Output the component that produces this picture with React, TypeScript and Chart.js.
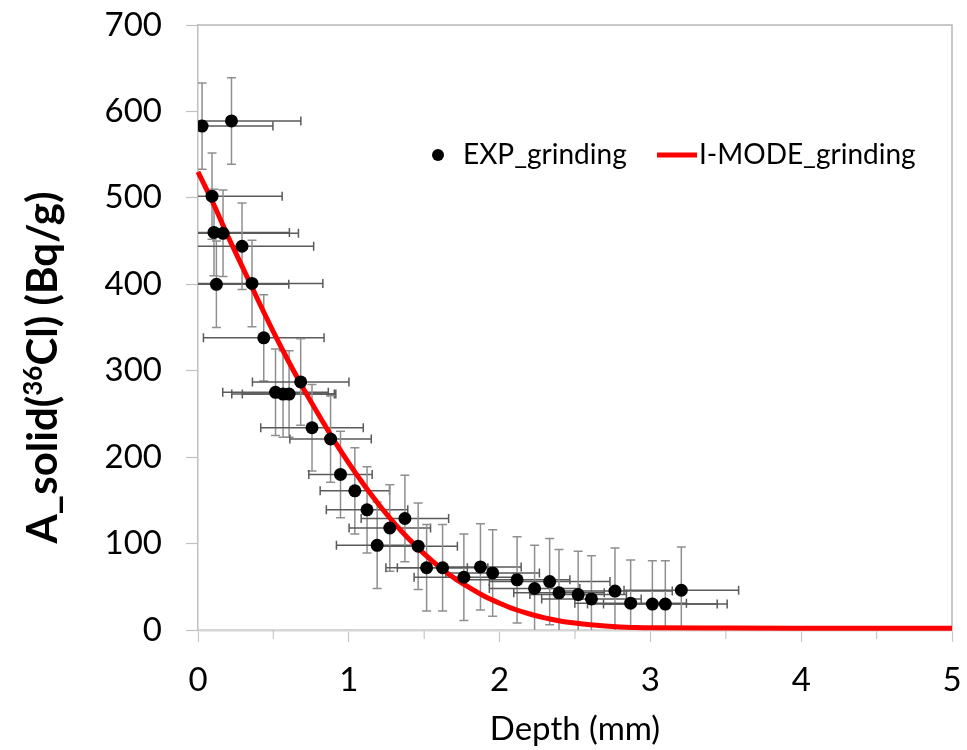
import React, { useEffect, useRef } from "react";
import { Chart, registerables } from "chart.js";

Chart.register(...registerables);

// Experimental points (grinding)
const depthMm = [
  0.027, 0.222, 0.093, 0.106, 0.166, 0.122, 0.292, 0.358, 0.436, 0.514,
  0.564, 0.604, 0.681, 0.756, 0.879, 0.945, 1.04, 1.121, 1.188, 1.272,
  1.372, 1.46, 1.516, 1.622, 1.763, 1.873, 1.954, 2.116, 2.232, 2.332,
  2.394, 2.521, 2.609, 2.765, 2.869, 3.013, 3.099, 3.205,
];
const activity = [
  583, 589, 502, 460, 459, 400, 444, 401, 338, 275,
  273, 273, 287, 234, 221, 180, 161, 139, 98, 118,
  129, 97, 72, 72, 61, 73, 66, 58, 48, 56,
  43, 41, 36, 45, 31, 30, 30, 46,
];
const depthErr = [
  0.47, 0.46, 0.465, 0.5, 0.5, 0.48, 0.475, 0.47, 0.4, 0.35,
  0.34, 0.31, 0.32, 0.34, 0.27, 0.21, 0.23, 0.27, 0.27, 0.27,
  0.29, 0.26, 0.27, 0.3, 0.33, 0.27, 0.31, 0.35, 0.3, 0.4,
  0.3, 0.32, 0.33, 0.38, 0.37, 0.43, 0.41, 0.38,
];
const activityErr = [
  50, 50, 50, 50, 50, 50, 50, 50, 50, 50,
  50, 50, 50, 50, 50, 50, 50, 50, 50, 50,
  50, 50, 50, 50, 50, 50, 50, 50, 50, 50,
  50, 50, 50, 50, 50, 50, 50, 50,
];

// Model curve (I-MODE grinding)
const modelDepth = [
  0, 0.1, 0.2, 0.3, 0.4, 0.5, 0.6, 0.7, 0.8, 0.9,
  1.0, 1.1, 1.2, 1.3, 1.4, 1.5, 1.6, 1.7, 1.8, 1.9,
  2.0, 2.1, 2.2, 2.3, 2.4, 2.5, 2.6, 2.7, 2.8, 2.9,
  3.0, 3.5, 4.0, 4.5, 5.0,
];
const modelActivity = [
  530, 494, 455, 418, 381, 345, 311, 279, 249, 220,
  193, 168, 145, 124, 105, 88, 73, 60, 49, 39,
  31, 24, 18.5, 14, 10.5, 8, 6, 4.6, 3.6, 3,
  2.6, 2.2, 2, 2, 2,
];

const xTickLabels = ["0", "1", "2", "3", "4", "5"];
const yTickLabels = ["0", "100", "200", "300", "400", "500", "600", "700"];

const seriesNames = ["EXP_grinding", "I-MODE_grinding"];
const xTitle = "Depth (mm)";
const yTitleParts = ["A_solid(", "36", "Cl) (Bq/g)"];

const FONT = "Lato, 'Open Sans', sans-serif";

const decorPlugin = {
  id: "decor",
  beforeDatasetsDraw(chart: any) {
    const { ctx, chartArea } = chart;
    const xs = chart.scales.x;
    const ys = chart.scales.y;
    const { left, right, top, bottom } = chartArea;
    ctx.save();
    // top & right frame
    ctx.strokeStyle = "#b8b8b8";
    ctx.lineWidth = 1.5;
    ctx.beginPath();
    ctx.moveTo(left, top);
    ctx.lineTo(right, top);
    ctx.lineTo(right, bottom);
    ctx.stroke();
    // minor x ticks
    ctx.strokeStyle = "#c8c8c8";
    ctx.lineWidth = 1.2;
    for (let v = 0.5; v < 5; v += 1) {
      const px = xs.getPixelForValue(v);
      ctx.beginPath();
      ctx.moveTo(px, bottom);
      ctx.lineTo(px, bottom + 9);
      ctx.stroke();
    }
    // error bars, clipped to plot area
    ctx.beginPath();
    ctx.rect(left, top, right - left, bottom - top);
    ctx.clip();
    const cap = 4.5;
    for (let i = 0; i < depthMm.length; i++) {
      const cx = xs.getPixelForValue(depthMm[i]);
      const cy = ys.getPixelForValue(activity[i]);
      const y1 = ys.getPixelForValue(activity[i] + activityErr[i]);
      const y2 = ys.getPixelForValue(activity[i] - activityErr[i]);
      ctx.strokeStyle = "#8f8f8f";
      ctx.lineWidth = 1.5;
      ctx.beginPath();
      ctx.moveTo(cx, y1);
      ctx.lineTo(cx, y2);
      ctx.moveTo(cx - cap, y1);
      ctx.lineTo(cx + cap, y1);
      ctx.moveTo(cx - cap, y2);
      ctx.lineTo(cx + cap, y2);
      ctx.stroke();
      const x1 = xs.getPixelForValue(depthMm[i] - depthErr[i]);
      const x2 = xs.getPixelForValue(depthMm[i] + depthErr[i]);
      ctx.strokeStyle = "#5a5a5a";
      ctx.beginPath();
      ctx.moveTo(x1, cy);
      ctx.lineTo(x2, cy);
      ctx.moveTo(x1, cy - cap);
      ctx.lineTo(x1, cy + cap);
      ctx.moveTo(x2, cy - cap);
      ctx.lineTo(x2, cy + cap);
      ctx.stroke();
    }
    ctx.restore();
  },
  afterDraw(chart: any) {
    const { ctx, chartArea } = chart;
    const { left, top, bottom } = chartArea;
    ctx.save();
    // Y axis title (bold, with superscript)
    const size = 42;
    const big = `bold ${size}px ${FONT}`;
    const small = `bold ${Math.round(size * 0.62)}px ${FONT}`;
    ctx.font = big;
    const w0 = ctx.measureText(yTitleParts[0]).width;
    const w2 = ctx.measureText(yTitleParts[2]).width;
    ctx.font = small;
    const w1 = ctx.measureText(yTitleParts[1]).width;
    const total = w0 + w1 + w2;
    const cyTitle = (top + bottom) / 2 + 40;
    ctx.translate(42, cyTitle);
    ctx.rotate(-Math.PI / 2);
    ctx.fillStyle = "#000";
    ctx.textBaseline = "alphabetic";
    ctx.textAlign = "left";
    const base = size * 0.36;
    let x = -total / 2;
    ctx.font = big;
    ctx.fillText(yTitleParts[0], x, base);
    x += w0;
    ctx.font = small;
    ctx.fillText(yTitleParts[1], x, base - size * 0.36);
    x += w1;
    ctx.font = big;
    ctx.fillText(yTitleParts[2], x, base);
    ctx.setTransform(1, 0, 0, 1, 0, 0);
    ctx.restore();

    // Legend
    ctx.save();
    const ly = top + 130;
    const lx = left + 240;
    ctx.fillStyle = "#000";
    ctx.beginPath();
    ctx.arc(lx, ly, 6, 0, Math.PI * 2);
    ctx.fill();
    ctx.font = `28px ${FONT}`;
    ctx.textBaseline = "middle";
    ctx.textAlign = "left";
    ctx.fillText(seriesNames[0], lx + 25, ly);
    ctx.strokeStyle = "#ff0000";
    ctx.lineWidth = 5;
    ctx.beginPath();
    ctx.moveTo(lx + 219, ly);
    ctx.lineTo(lx + 259, ly);
    ctx.stroke();
    ctx.fillText(seriesNames[1], lx + 261, ly);
    ctx.restore();
  },
};

export default function App() {
  const ref = useRef<HTMLCanvasElement | null>(null);
  useEffect(() => {
    if (!ref.current) return;
    const chart = new Chart(ref.current, {
      type: "scatter",
      data: {
        datasets: [
          {
            label: seriesNames[0],
            data: depthMm.map((d, i) => ({ x: d, y: activity[i] })),
            backgroundColor: "#000",
            borderWidth: 0,
            pointRadius: 6.5,
            pointHoverRadius: 6.5,
            order: 0,
          },
          {
            type: "line",
            label: seriesNames[1],
            data: modelDepth.map((d, i) => ({ x: d, y: modelActivity[i] })),
            borderColor: "#ff0000",
            borderWidth: 5,
            pointRadius: 0,
            cubicInterpolationMode: "monotone",
            fill: false,
            order: 1,
            clip: 4,
          } as any,
        ],
      },
      options: {
        animation: false,
        responsive: true,
        maintainAspectRatio: false,
        layout: { padding: { left: 0, top: 25, right: 15, bottom: 0 }, autoPadding: false } as any,
        plugins: {
          legend: { display: false },
          tooltip: { enabled: false },
        },
        scales: {
          x: {
            type: "linear",
            min: 0,
            max: 5,
            afterFit: (s: any) => {
              s.height = 120;
              s.paddingLeft = 0;
              s.paddingRight = 0;
              s.paddingTop = 0;
              s.paddingBottom = 0;
            },
            border: { display: true, color: "#d6d6d6", width: 2.5 },
            grid: {
              drawOnChartArea: false,
              drawTicks: true,
              tickLength: 12,
              tickWidth: 1.2,
              tickColor: "#c8c8c8",
            },
            ticks: {
              stepSize: 1,
              padding: 19,
              color: "#000",
              font: { family: FONT, size: 33 },
              callback: (v: any) => xTickLabels[Math.round(Number(v))] ?? "",
              maxRotation: 0,
            },
            title: {
              display: true,
              text: xTitle,
              color: "#000",
              font: { family: FONT, size: 33 },
              padding: { top: 0, bottom: 1 },
            },
          },
          y: {
            type: "linear",
            min: 0,
            max: 700,
            afterFit: (s: any) => {
              s.width = 198;
              s.paddingLeft = 0;
              s.paddingRight = 0;
              s.paddingTop = 0;
              s.paddingBottom = 0;
            },
            border: { display: true, color: "#c0c0c0", width: 1.5 },
            grid: {
              drawOnChartArea: false,
              drawTicks: true,
              tickLength: 12,
              tickWidth: 1.2,
              tickColor: "#c0c0c0",
            },
            ticks: {
              stepSize: 100,
              padding: 24,
              color: "#000",
              font: { family: FONT, size: 33 },
              callback: (v: any) => yTickLabels[Math.round(Number(v) / 100)] ?? "",
            },
          },
        },
      },
      plugins: [decorPlugin],
    });
    return () => chart.destroy();
  }, []);
  return (
    <div style={{ position: "absolute", left: 0, top: 0, width: 967, height: 750, background: "#fff" }}>
      <canvas ref={ref} />
    </div>
  );
}
